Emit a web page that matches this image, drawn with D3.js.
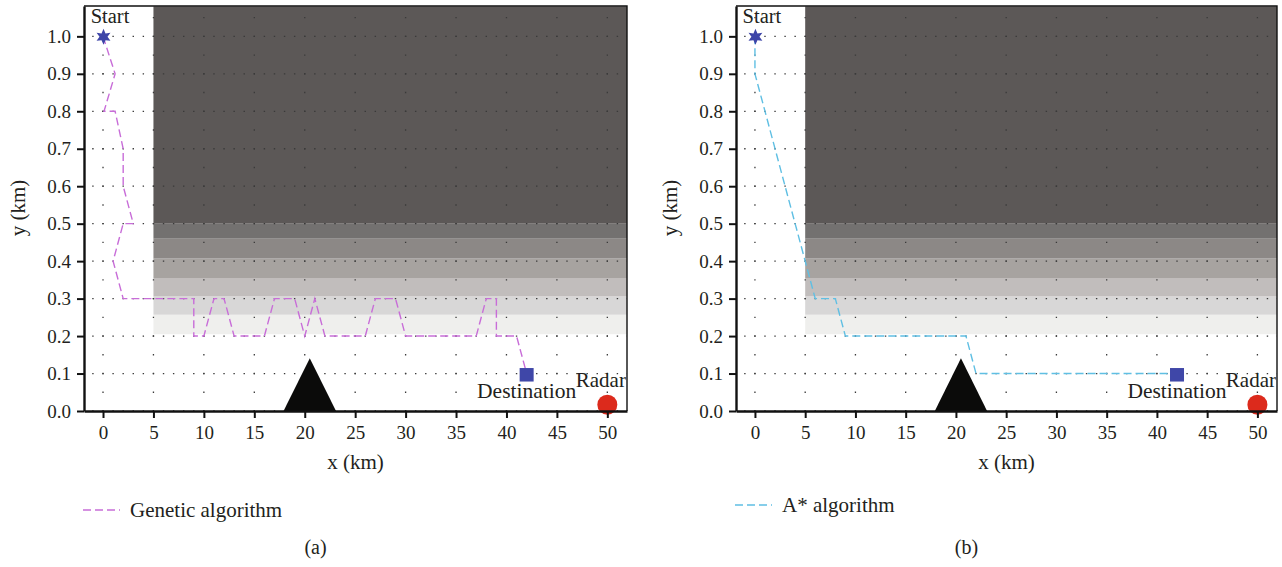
<!DOCTYPE html>
<html>
<head>
<meta charset="utf-8">
<script src="https://cdn.jsdelivr.net/npm/d3@7"></script>
<style>
  body { margin: 0; background: #ffffff; }
  text { font-family: "Liberation Serif", "Times New Roman", serif; fill: #231f20; }
</style>
</head>
<body>
<svg id="chart" width="1282" height="567"></svg>
<script>
// ---- data ----
const xTicks = [0, 5, 10, 15, 20, 25, 30, 35, 40, 45, 50];
const yTicks = [0.0, 0.1, 0.2, 0.3, 0.4, 0.5, 0.6, 0.7, 0.8, 0.9, 1.0];

// threat layers (altitude bands) starting at x = 5 km
const bandStartX = 5;
const bandLower = [0.205, 0.257, 0.306, 0.355, 0.407, 0.46, 0.5];
const bandUpper = [0.257, 0.306, 0.355, 0.407, 0.46, 0.5, 1.08];
const bandColors = ["#efefed", "#d8d7d7", "#c1bdbc", "#a7a3a0", "#8c8886", "#737170", "#5c5857"];

// flight paths
const gaX = [0, 1.2, 0.1, 1.2, 2, 2, 3, 2, 1, 2, 9, 9, 10, 11, 12, 13, 16, 17, 19, 20, 21, 22, 26, 27, 29, 30, 37, 38, 39, 39, 41, 42];
const gaY = [1.0, 0.9, 0.8, 0.8, 0.7, 0.6, 0.5, 0.5, 0.4, 0.3, 0.3, 0.2, 0.2, 0.3, 0.3, 0.2, 0.2, 0.3, 0.3, 0.2, 0.3, 0.2, 0.2, 0.3, 0.3, 0.2, 0.2, 0.3, 0.3, 0.2, 0.2, 0.1];
const astarX = [0, 0, 6, 8, 9, 21, 22, 42];
const astarY = [1.0, 0.9, 0.3, 0.3, 0.2, 0.2, 0.1, 0.1];

// scene objects
const startPoint = [0, 1.0];
const destinationPoint = [42, 0.1];
const radarPoint = [50, 0.017];
const mountainX = [17.9, 20.5, 23.1];
const mountainY = [0, 0.141, 0];

const panels = [
  { left: 84, right: 627, path: [gaX, gaY], color: "#c86dd8", legend: "Genetic algorithm",
    legendY: 510, caption: "(a)" },
  { left: 736, right: 1277, path: [astarX, astarY], color: "#5fbfe3", legend: "A* algorithm",
    legendY: 505, caption: "(b)" }
];

const svg = d3.select("#chart");
const plotTop = 6, plotBottom = 411;

panels.forEach(p => {
  const x = d3.scaleLinear().domain([-1.885, 51.95]).range([p.left, p.right]);
  const y = d3.scaleLinear().domain([0, 1.081]).range([plotBottom, plotTop]);
  const g = svg.append("g");

  // threat bands
  g.selectAll("rect.band").data(bandColors).join("rect")
    .attr("class", "band")
    .attr("x", x(bandStartX))
    .attr("width", x.range()[1] - x(bandStartX))
    .attr("y", (d, i) => y(bandUpper[i]))
    .attr("height", (d, i) => y(bandLower[i]) - y(bandUpper[i]))
    .attr("fill", d => d);

  // dotted grid
  const hPeriod = x(1) - x(0);
  g.selectAll("line.hgrid").data(yTicks).join("line")
    .attr("x1", x(-1) - 0.7).attr("x2", x.range()[1])
    .attr("y1", d => y(d)).attr("y2", d => y(d))
    .attr("stroke", "#3a3a3a").attr("stroke-width", 1.3)
    .attr("stroke-dasharray", `1.4,${hPeriod - 1.4}`);
  const vPeriod = y(0) - y(0.05);
  g.selectAll("line.vgrid").data(xTicks).join("line")
    .attr("x1", d => x(d)).attr("x2", d => x(d))
    .attr("y1", y(0) + 0.7).attr("y2", plotTop)
    .attr("stroke", "#3a3a3a").attr("stroke-width", 1.3)
    .attr("stroke-dasharray", `1.4,${vPeriod - 1.4}`);

  // flight path
  const pts = p.path[0].map((v, i) => [v, p.path[1][i]]);
  g.append("path")
    .attr("d", d3.line().x(d => x(d[0])).y(d => y(d[1]))(pts))
    .attr("fill", "none").attr("stroke", p.color).attr("stroke-width", 1.4)
    .attr("stroke-dasharray", "8,4");

  // mountain
  const mPts = mountainX.map((v, i) => [v, mountainY[i]]);
  g.append("path")
    .attr("d", d3.line().x(d => x(d[0])).y(d => y(d[1]))(mPts) + "Z")
    .attr("fill", "#0b0b0a");

  // start marker (six-pointed star)
  const starPts = d3.range(12).map(i => {
    const a = i * Math.PI / 6;
    const r = i % 2 === 0 ? 8 : 4;
    return [r * Math.sin(a), -r * Math.cos(a)];
  });
  g.append("path")
    .attr("transform", `translate(${x(startPoint[0]) + 0.5},${y(startPoint[1]) + 0.5})`)
    .attr("d", d3.line()(starPts) + "Z")
    .attr("fill", "#3d45a8");
  g.append("text").attr("x", x(startPoint[0]) + 7).attr("y", y(startPoint[1]) - 13.5)
    .attr("text-anchor", "middle").attr("font-size", 20.5).text("Start");

  // destination marker
  g.append("rect")
    .attr("x", x(destinationPoint[0]) - 7).attr("y", y(destinationPoint[1]) - 5.5)
    .attr("width", 14).attr("height", 13.5).attr("fill", "#3f47a8");
  g.append("text").attr("x", x(destinationPoint[0])).attr("y", y(destinationPoint[1]) + 24.5)
    .attr("text-anchor", "middle").attr("font-size", 21.5).text("Destination");

  // radar
  g.append("circle")
    .attr("cx", x(radarPoint[0])).attr("cy", y(radarPoint[1]))
    .attr("r", 10).attr("fill", "#dc2a1c");
  g.append("text").attr("x", x(radarPoint[0]) - 6.5).attr("y", y(radarPoint[1]) - 17.5)
    .attr("text-anchor", "middle").attr("font-size", 21).text("Radar");

  // frame: top and right borders
  g.append("path")
    .attr("d", `M${p.left},${plotTop}H${p.right}V${plotBottom}`)
    .attr("fill", "none").attr("stroke", "#111").attr("stroke-width", 1.4);

  // axes
  const xAxis = g.append("g").attr("transform", `translate(0,${plotBottom})`)
    .call(d3.axisBottom(x).tickValues(xTicks).tickSize(7).tickSizeOuter(0).tickPadding(8));
  const yAxis = g.append("g").attr("transform", `translate(${p.left},0)`)
    .call(d3.axisLeft(y).tickValues(yTicks).tickFormat(d3.format(".1f")).tickSize(7).tickSizeOuter(0).tickPadding(6));
  [xAxis, yAxis].forEach(a => {
    a.select(".domain").attr("stroke", "#111").attr("stroke-width", 2.4);
    a.selectAll(".tick line").attr("stroke", "#111").attr("stroke-width", 2);
    a.selectAll(".tick text").attr("font-size", 19)
      .attr("font-family", "'Liberation Serif','Times New Roman',serif").attr("fill", "#231f20");
  });

  // axis titles
  g.append("text").attr("x", (p.left + p.right) / 2).attr("y", 469)
    .attr("text-anchor", "middle").attr("font-size", 21).text("x (km)");
  g.append("text").attr("transform", `translate(${p.left - 59},${208}) rotate(-90)`)
    .attr("text-anchor", "middle").attr("font-size", 21).text("y (km)");

  // legend
  g.append("line").attr("x1", p.left - 1).attr("x2", p.left + 36)
    .attr("y1", p.legendY).attr("y2", p.legendY)
    .attr("stroke", p.color).attr("stroke-width", 1.4).attr("stroke-dasharray", "8,4");
  g.append("text").attr("x", p.left + 46).attr("y", p.legendY + 7)
    .attr("font-size", 21).text(p.legend);

  // caption
  g.append("text").attr("x", (p.left + p.right) / 2 - 40).attr("y", 554)
    .attr("text-anchor", "middle").attr("font-size", 20).text(p.caption);
});
</script>
</body>
</html>
